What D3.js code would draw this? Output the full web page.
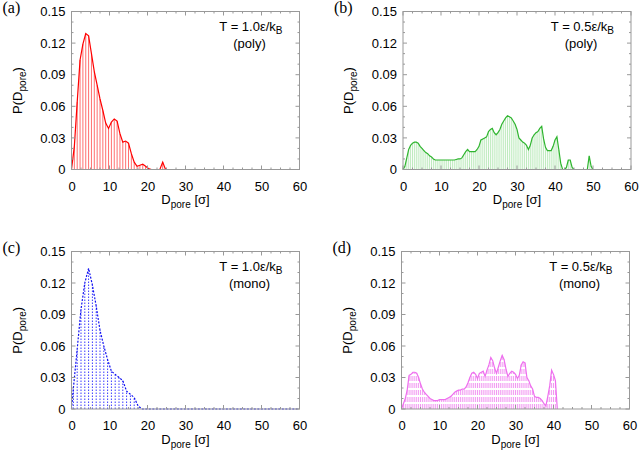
<!DOCTYPE html>
<html><head><meta charset="utf-8">
<script src="https://cdn.jsdelivr.net/npm/d3@7"></script>
<style>body{margin:0;background:#fff}svg{display:block}</style>
</head><body>
<svg id="chart" width="640" height="451"></svg>
<script>
// ---------- data ----------
const xTicks = [0, 10, 20, 30, 40, 50, 60];
const yTicks = [0, 0.03, 0.06, 0.09, 0.12, 0.15];
const yTickLabels = ["0", "0.03", "0.06", "0.09", "0.12", "0.15"];
const panelLabels = ["(a)", "(b)", "(c)", "(d)"];
const tempLabels = ["1.0", "0.5", "1.0", "0.5"];
const systemLabels = ["(poly)", "(poly)", "(mono)", "(mono)"];

// (a) T = 1.0, poly
const binsA = d3.range(0, 25, 0.75);
const valsA = [0, 0.022, 0.064, 0.104, 0.119, 0.129, 0.127, 0.110, 0.093, 0.080,
  0.067, 0.056, 0.044, 0.039, 0.045, 0.048, 0.046, 0.034, 0.026, 0.027,
  0.025, 0.015, 0.007, 0.003, 0.004, 0.005, 0.003, 0.001, 0, 0,
  0, 0, 0.007, 0];

// (b) T = 0.5, poly
const binsB = d3.range(0, 50.25, 0.5);
const valsB = [
  0, 0.003, 0.011, 0.019, 0.023, 0.025, 0.026, 0.026, 0.025, 0.022,
  0.020, 0.018, 0.016, 0.015, 0.013, 0.012, 0.010, 0.009, 0.009, 0.009,
  0.009, 0.009, 0.009, 0.009, 0.009, 0.009, 0.009, 0.009, 0.0095, 0.010,
  0.010, 0.011, 0.014, 0.017, 0.019, 0.017, 0.017, 0.017, 0.017, 0.019,
  0.022, 0.028, 0.029, 0.030, 0.031, 0.036, 0.038, 0.039, 0.035, 0.033,
  0.035, 0.038, 0.043, 0.046, 0.049, 0.051, 0.050, 0.049, 0.046, 0.043,
  0.038, 0.030, 0.028, 0.026, 0.025, 0.023, 0.019, 0.023, 0.030, 0.033,
  0.035, 0.036, 0.039, 0.041, 0.029, 0.021, 0.018, 0.018, 0.018, 0.022,
  0.028, 0.031, 0.019, 0.006, 0, 0, 0.002, 0.009, 0.009, 0.002,
  0, 0, 0, 0, 0, 0, 0, 0, 0.013, 0.003,
  0];

// (c) T = 1.0, mono
const binsC = [0].concat(d3.range(0.5, 60, 1));
const valsC = [0, 0.020, 0.057, 0.095, 0.120, 0.134, 0.118, 0.098, 0.075, 0.060,
  0.047, 0.036, 0.033, 0.030, 0.027, 0.017, 0.014, 0.011, 0.003, 0,
  0, 0, 0, 0, 0, 0, 0, 0, 0, 0,
  0, 0, 0, 0, 0, 0, 0, 0, 0, 0,
  0, 0, 0, 0, 0, 0, 0, 0, 0, 0,
  0, 0, 0, 0, 0, 0, 0, 0, 0, 0,
  0];

// (d) T = 0.5, mono
const binsD = d3.range(0, 41.25, 0.5);
const valsD = [
  0, 0.005, 0.010, 0.018, 0.032, 0.033, 0.035, 0.035, 0.034, 0.030,
  0.024, 0.019, 0.016, 0.014, 0.012, 0.010, 0.009, 0.008, 0.008, 0.008,
  0.009, 0.009, 0.009, 0.009, 0.010, 0.011, 0.012, 0.014, 0.016, 0.017,
  0.018, 0.018, 0.019, 0.019, 0.021, 0.025, 0.030, 0.034, 0.035, 0.033,
  0.029, 0.034, 0.035, 0.036, 0.031, 0.037, 0.042, 0.049, 0.046, 0.039,
  0.034, 0.040, 0.046, 0.051, 0.047, 0.038, 0.031, 0.034, 0.036, 0.035,
  0.033, 0.029, 0.032, 0.042, 0.045, 0.044, 0.030, 0.027, 0.022, 0.019,
  0.012, 0.011, 0.011, 0.010, 0.008, 0.005, 0.003, 0.012, 0.022, 0.037,
  0.033, 0.027, 0];

// ---------- layout & style ----------
const panels = [
  {bins: binsA, vals: valsA, x0: 71.5, x1: 299.5, y0: 11.5, y1: 169.5,
   line: "#ff0000", lineDash: null, imp: "#ff7070", impDash: null},
  {bins: binsB, vals: valsB, x0: 403, x1: 631, y0: 11.5, y1: 169.5,
   line: "#2fb52f", lineDash: null, imp: "#7ed67e", impDash: "1,1"},
  {bins: binsC, vals: valsC, x0: 71.5, x1: 299.5, y0: 251.5, y1: 409,
   line: "#1010f0", lineDash: "2,1.5", imp: "#3a3aff", impDash: "1.5,1.5"},
  {bins: binsD, vals: valsD, x0: 401.5, x1: 629.5, y0: 251.5, y1: 409,
   line: "#ee6fee", lineDash: null, imp: "#f29af2", impDash: "5,2"}
];

const svg = d3.select("#chart");
const FONT = "'Liberation Sans', Arial, Helvetica, sans-serif";
const SERIF = "'Liberation Serif', 'Times New Roman', serif";
const frameColor = "#999";

panels.forEach((p, i) => {
  const x = d3.scaleLinear().domain([0, 60]).range([p.x0, p.x1]);
  const y = d3.scaleLinear().domain([0, 0.15]).range([p.y1, p.y0]);
  const g = svg.append("g");

  // impulses
  g.append("g").selectAll("line").data(p.bins.map((b, k) => [b, p.vals[k]]).filter(d => d[1] > 0))
    .join("line")
    .attr("x1", d => x(d[0])).attr("x2", d => x(d[0]))
    .attr("y1", y(0)).attr("y2", d => y(d[1]))
    .attr("stroke", p.imp).attr("stroke-width", 1)
    .attr("stroke-dasharray", p.impDash);

  // outline
  g.append("path")
    .datum(p.bins.map((b, k) => [b, p.vals[k]]))
    .attr("d", d3.line().x(d => x(d[0])).y(d => y(d[1])))
    .attr("fill", "none").attr("stroke", p.line).attr("stroke-width", 1.2)
    .attr("stroke-dasharray", p.lineDash);

  // ticks (inward, mirrored)
  const xMinor = d3.range(0, 60.1, 2.5).filter(v => v % 10 !== 0);
  const yMinor = d3.range(0, 0.1501, 0.01).filter(v => Math.abs(v / 0.03 - Math.round(v / 0.03)) > 1e-6);
  const tickG = g.append("g").attr("stroke", frameColor).attr("stroke-width", 1);
  xTicks.forEach(v => {
    tickG.append("line").attr("x1", x(v)).attr("x2", x(v)).attr("y1", p.y1).attr("y2", p.y1 - 4);
    tickG.append("line").attr("x1", x(v)).attr("x2", x(v)).attr("y1", p.y0).attr("y2", p.y0 + 4);
  });
  xMinor.forEach(v => {
    tickG.append("line").attr("x1", x(v)).attr("x2", x(v)).attr("y1", p.y1).attr("y2", p.y1 - 2);
    tickG.append("line").attr("x1", x(v)).attr("x2", x(v)).attr("y1", p.y0).attr("y2", p.y0 + 2);
  });
  yTicks.forEach(v => {
    tickG.append("line").attr("y1", y(v)).attr("y2", y(v)).attr("x1", p.x0).attr("x2", p.x0 + 4);
    tickG.append("line").attr("y1", y(v)).attr("y2", y(v)).attr("x1", p.x1).attr("x2", p.x1 - 4);
  });
  yMinor.forEach(v => {
    tickG.append("line").attr("y1", y(v)).attr("y2", y(v)).attr("x1", p.x0).attr("x2", p.x0 + 2);
    tickG.append("line").attr("y1", y(v)).attr("y2", y(v)).attr("x1", p.x1).attr("x2", p.x1 - 2);
  });

  // frame
  g.append("rect").attr("x", p.x0).attr("y", p.y0)
    .attr("width", p.x1 - p.x0).attr("height", p.y1 - p.y0)
    .attr("fill", "none").attr("stroke", frameColor).attr("stroke-width", 1);

  // tick labels via axes (no domain, no tick lines)
  const ax = g.append("g").attr("transform", `translate(0,${p.y1})`)
    .call(d3.axisBottom(x).tickValues(xTicks).tickSize(0).tickPadding(12).tickFormat(d3.format("d")));
  const ay = g.append("g").attr("transform", `translate(${p.x0},0)`)
    .call(d3.axisLeft(y).tickValues(yTicks).tickSize(0).tickPadding(6).tickFormat((d, k) => yTickLabels[k]));
  [ax, ay].forEach(a => {
    a.select(".domain").remove();
    a.selectAll("text").attr("font-family", FONT).attr("font-size", 13).attr("fill", "#000");
  });

  // axis titles
  const cx = (p.x0 + p.x1) / 2;
  const xt = g.append("text").attr("x", cx).attr("y", p.y1 + 34.5)
    .attr("text-anchor", "middle").attr("font-family", FONT).attr("font-size", 13).attr("fill", "#000");
  xt.append("tspan").text("D");
  xt.append("tspan").attr("font-size", 10).attr("dy", 4).text("pore");
  xt.append("tspan").attr("dy", -4).text(" [σ]");

  const cy = (p.y0 + p.y1) / 2;
  const yt = g.append("text").attr("transform", `translate(${p.x0 - 50},${cy}) rotate(-90)`)
    .attr("text-anchor", "middle").attr("font-family", FONT).attr("font-size", 13).attr("fill", "#000");
  yt.append("tspan").text("P(D");
  yt.append("tspan").attr("font-size", 10).attr("dy", 4).text("pore");
  yt.append("tspan").attr("dy", -4).text(")");

  // panel label
  g.append("text").attr("x", p.x0 - 69).attr("y", p.y0 + 1)
    .attr("font-family", SERIF).attr("font-size", 16).attr("fill", "#000").text(panelLabels[i]);

  // annotation
  const tx = p.x1 - 17;
  const t1 = g.append("text").attr("x", tx).attr("y", p.y0 + 19.5)
    .attr("text-anchor", "end").attr("font-family", FONT).attr("font-size", 13).attr("fill", "#000");
  t1.append("tspan").text(`T = ${tempLabels[i]}ε/k`);
  t1.append("tspan").attr("font-size", 10).attr("dy", 3).text("B");
  g.append("text").attr("x", tx - 33).attr("y", p.y0 + 36)
    .attr("text-anchor", "middle").attr("font-family", FONT).attr("font-size", 13).attr("fill", "#000")
    .text(systemLabels[i]);
});
</script>
</body></html>
